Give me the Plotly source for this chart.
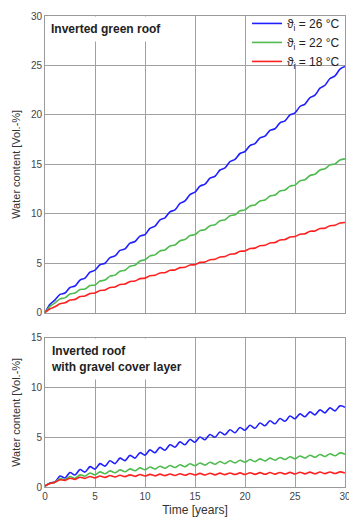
import plotly.graph_objects as go

# Time axis: half-year steps, 0..30 years
years = [i * 0.5 for i in range(61)]

# ---- Inverted green roof (top panel) ----
top_26_year = [0, 1.3, 2.0, 2.7, 3.5, 4.3, 5.0, 5.75, 6.45, 7.2, 7.9, 8.75, 9.6, 10.4, 11.3, 12.2,
               13.0, 13.8, 14.65, 15.5, 16.3, 17.1, 17.85, 18.6, 19.4, 20.2, 21.1, 22.0, 23.0, 23.95, 24.9]
top_26_mid = [0.85, 1.85, 2.55, 3.3, 4.1, 4.85, 5.58, 6.3, 7.03, 7.75, 8.53, 9.38, 10.2, 11.05, 11.95,
              12.8, 13.6, 14.43, 15.28, 16.1, 16.9, 17.68, 18.43, 19.2, 20.0, 20.85, 21.75, 22.7, 23.68, 24.63]
top_22_year = [0, 1.0, 1.5, 2.0, 2.4, 2.8, 3.3, 3.8, 4.3, 4.8, 5.35, 5.85, 6.35, 6.85, 7.4, 7.9,
               8.4, 8.9, 9.4, 9.9, 10.4, 10.9, 11.4, 11.9, 12.4, 12.9, 13.45, 14.0, 14.55, 15.05, 15.55]
top_22_mid = [0.65, 1.4, 1.9, 2.35, 2.75, 3.2, 3.7, 4.2, 4.7, 5.23, 5.75, 6.25, 6.75, 7.28, 7.8,
              8.3, 8.8, 9.3, 9.8, 10.3, 10.8, 11.3, 11.8, 12.3, 12.8, 13.33, 13.88, 14.43, 14.95, 15.45]
top_18_year = [0, 0.6, 1.0, 1.35, 1.7, 2.0, 2.3, 2.6, 2.9, 3.2, 3.5, 3.78, 4.05, 4.32, 4.6, 4.85,
               5.12, 5.4, 5.68, 5.96, 6.25, 6.53, 6.82, 7.1, 7.4, 7.7, 7.98, 8.27, 8.55, 8.84, 9.12]
top_18_mid = [0.4, 0.9, 1.28, 1.63, 1.95, 2.25, 2.55, 2.85, 3.15, 3.45, 3.74, 4.02, 4.29, 4.56, 4.83,
              5.09, 5.36, 5.64, 5.92, 6.21, 6.49, 6.78, 7.06, 7.35, 7.65, 7.94, 8.23, 8.51, 8.8, 9.08]

# ---- Inverted roof with gravel cover layer (bottom panel) ----
bot_26_year = [0.1, 0.5, 0.9, 1.2, 1.5, 1.8, 2.1, 2.35, 2.65, 2.9, 3.2, 3.45, 3.7, 4.0, 4.25, 4.5,
               4.75, 5.0, 5.25, 5.45, 5.7, 5.9, 6.15, 6.35, 6.6, 6.85, 7.05, 7.25, 7.45, 7.65, 8.0]
bot_26_mid = [0.4, 1.1, 1.45, 1.75, 2.05, 2.35, 2.63, 2.9, 3.18, 3.45, 3.73, 3.98, 4.25, 4.53, 4.78,
              5.03, 5.28, 5.53, 5.75, 5.98, 6.2, 6.43, 6.65, 6.88, 7.13, 7.35, 7.55, 7.75, 7.95, 8.15]
bot_22_year = [0.1, 0.48, 0.73, 0.88, 1.08, 1.23, 1.33, 1.43, 1.53, 1.63, 1.73, 1.81, 1.88, 1.96, 2.04, 2.13,
               2.2, 2.28, 2.35, 2.42, 2.48, 2.55, 2.62, 2.69, 2.76, 2.83, 2.91, 2.98, 3.06, 3.14, 3.3]
bot_22_mid = [0.35, 0.85, 1.05, 1.22, 1.4, 1.52, 1.62, 1.72, 1.82, 1.92, 2.01, 2.09, 2.16, 2.24, 2.33,
              2.41, 2.48, 2.56, 2.63, 2.69, 2.76, 2.83, 2.9, 2.97, 3.04, 3.11, 3.19, 3.26, 3.34, 3.43]
bot_18_year = [0.1, 0.47, 0.67, 0.77, 0.87, 0.92, 0.97, 1.0, 1.04, 1.07, 1.1, 1.12, 1.14, 1.16, 1.18, 1.2,
               1.21, 1.22, 1.24, 1.25, 1.26, 1.27, 1.28, 1.29, 1.3, 1.31, 1.32, 1.33, 1.34, 1.35, 1.4]
bot_18_mid = [0.35, 0.73, 0.88, 0.98, 1.06, 1.1, 1.15, 1.18, 1.22, 1.25, 1.27, 1.29, 1.31, 1.33, 1.35,
              1.37, 1.38, 1.39, 1.41, 1.42, 1.43, 1.44, 1.45, 1.46, 1.47, 1.48, 1.49, 1.5, 1.51, 1.52]

series_names = ["ϑ<sub>i</sub> = 26 °C", "ϑ<sub>i</sub> = 22 °C", "ϑ<sub>i</sub> = 18 °C"]
series_colors = ["#1f1fff", "#4dbb4d", "#ff2020"]
x_ticks = [0, 5, 10, 15, 20, 25, 30]
top_y_ticks = [0, 5, 10, 15, 20, 25, 30]
bot_y_ticks = [0, 5, 10, 15]


def interleave(year_vals, mid_vals):
    out = []
    for i, v in enumerate(year_vals):
        out.append(v)
        if i < len(mid_vals):
            out.append(mid_vals[i])
    return out


top_series = [interleave(top_26_year, top_26_mid),
              interleave(top_22_year, top_22_mid),
              interleave(top_18_year, top_18_mid)]
bot_series = [interleave(bot_26_year, bot_26_mid),
              interleave(bot_22_year, bot_22_mid),
              interleave(bot_18_year, bot_18_mid)]

fig = go.Figure()
for name, col, ys in zip(series_names, series_colors, top_series):
    fig.add_trace(go.Scatter(x=years, y=ys, mode="lines", name=name,
                             line=dict(color=col, width=1.6, shape="spline", smoothing=0.8),
                             xaxis="x", yaxis="y"))
for name, col, ys in zip(series_names, series_colors, bot_series):
    fig.add_trace(go.Scatter(x=years, y=ys, mode="lines", name=name, showlegend=False,
                             line=dict(color=col, width=1.6, shape="spline", smoothing=0.8),
                             xaxis="x2", yaxis="y2"))

font_family = "Liberation Sans, Arial, sans-serif"
axis_common = dict(showline=True, mirror=True, linecolor="#9a9a9a", linewidth=1,
                   gridcolor="#a0a0a0", gridwidth=1, zeroline=False, ticks="",
                   automargin=False,
                   tickfont=dict(size=10, color="#444", family=font_family))

fig.update_layout(
    width=349, height=520,
    margin=dict(l=45, r=4, t=16, b=33, autoexpand=False),
    paper_bgcolor="white", plot_bgcolor="white",
    font=dict(family=font_family, color="#333"),
    xaxis=dict(domain=[0, 1], range=[0, 30], tickvals=x_ticks, showticklabels=False,
               anchor="y", **axis_common),
    yaxis=dict(domain=[0.37, 1], range=[0, 30], tickvals=top_y_ticks, anchor="x",
               title=dict(text="Water content [Vol.-%]", font=dict(size=11, color="#333"), standoff=8),
               **axis_common),
    xaxis2=dict(domain=[0, 1], range=[0, 30], tickvals=x_ticks, anchor="y2",
                ticklabeloverflow="allow",
                title=dict(text="Time [years]", font=dict(size=12, color="#333"), standoff=4),
                **axis_common),
    yaxis2=dict(domain=[0, 0.317], range=[0, 15], tickvals=bot_y_ticks, anchor="x2",
                title=dict(text="Water content [Vol.-%]", font=dict(size=11, color="#333"), standoff=8),
                **axis_common),
    legend=dict(x=1, y=1.015, xref="paper", yref="paper", xanchor="right", yanchor="top",
                bgcolor="rgba(0,0,0,0)", borderwidth=0, font=dict(size=12, color="#222"),
                tracegroupgap=0, itemwidth=30),
    showlegend=True,
)

# white panel behind the legend: hides gridlines only (drawn between grid and traces)
fig.add_shape(type="rect", xref="x", yref="y", x0=20.6, x1=30, y0=25.2, y1=30,
              fillcolor="white", line=dict(width=0), layer="between")

fig.add_annotation(text="<b>Inverted green roof</b>", xref="x domain", yref="y domain",
                   x=0.0, y=1.0, xanchor="left", yanchor="top", showarrow=False,
                   font=dict(size=12, color="#222"), bgcolor="white", borderpad=5, align="left")
fig.add_annotation(text="<b>Inverted roof<br>with gravel cover layer</b>", xref="x2 domain", yref="y2 domain",
                   x=0.0, y=1.0, xanchor="left", yanchor="top", showarrow=False,
                   font=dict(size=12, color="#222"), bgcolor="white", borderpad=5, align="left")

fig.write_html("out.html")
